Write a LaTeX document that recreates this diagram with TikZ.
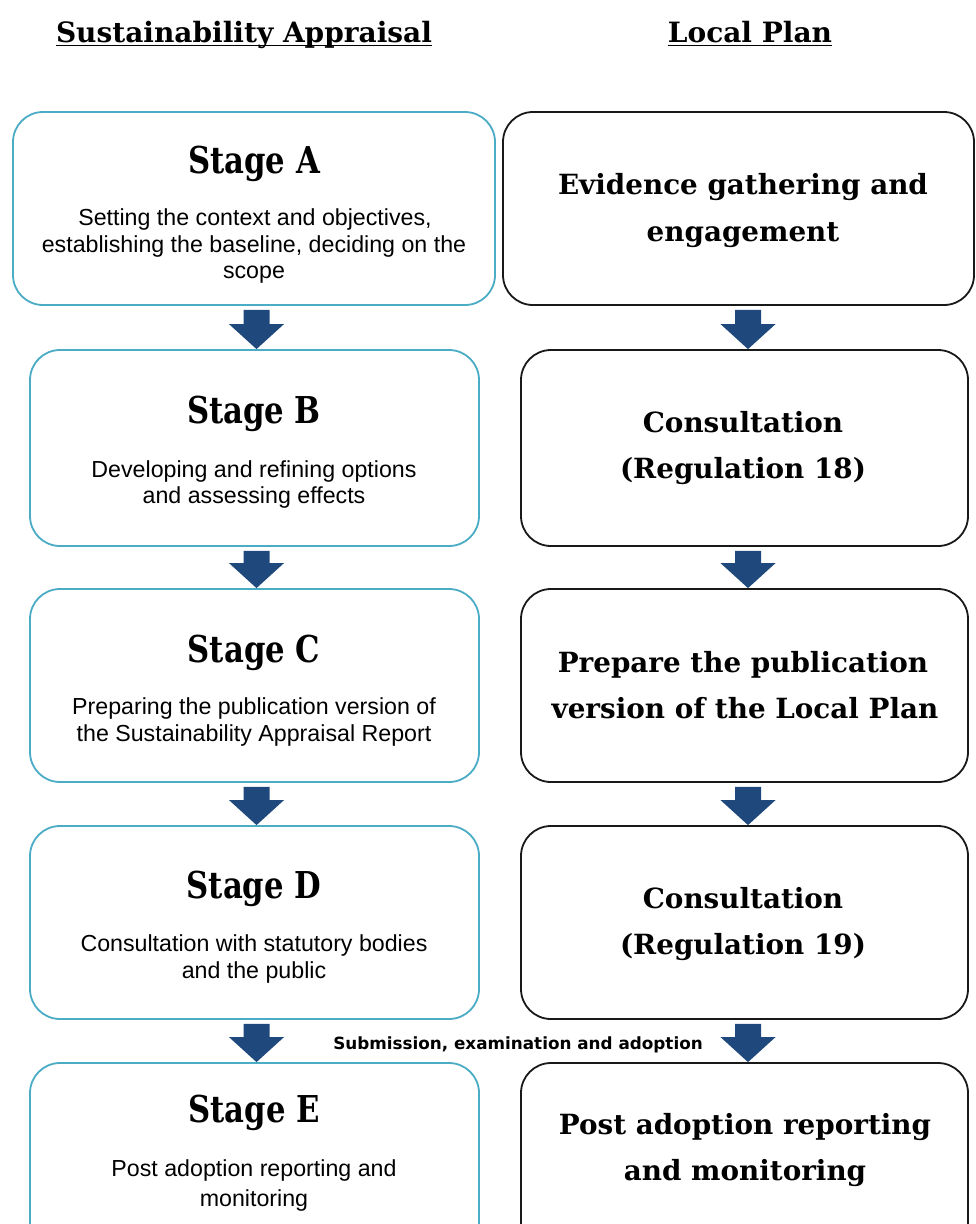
\documentclass[tikz,border=0pt]{standalone}
\usepackage{fontspec}
\setmainfont{Liberation Serif}
\newfontfamily\hdfont{DejaVu Serif}
\newfontfamily\rtfont{DejaVu Serif}
\newfontfamily\stfont[FakeStretch=0.83]{DejaVu Serif}
\newfontfamily\bodyfont{Liberation Sans}
\newfontfamily\subfont{DejaVu Sans}
\usetikzlibrary{calc}
\definecolor{sablue}{RGB}{75,172,198}
\definecolor{arrowblue}{RGB}{31,73,125}
\definecolor{lpline}{RGB}{25,25,25}
\newcommand\blockarrow[3]{%
  \fill[arrowblue] let \p1=(#1.south), \p2=(#2.north) in
    (\x2+#3-13pt,\y1-4pt) -- (\x2+#3+13pt,\y1-4pt) -- (\x2+#3+13pt,\y2+25pt)
    -- (\x2+#3+27.5pt,\y2+25pt) -- (\x2+#3,\y2) -- (\x2+#3-27.5pt,\y2+25pt)
    -- (\x2+#3-13pt,\y2+25pt) -- cycle;}
\tikzset{
  lbox/.style={draw=sablue, line width=1.8pt, rounded corners=30pt, inner sep=0pt,
    minimum width=449pt, minimum height=194pt},
  rbox/.style={draw=lpline, line width=1.8pt, rounded corners=30pt, inner sep=0pt,
    minimum width=447pt, minimum height=194pt},
  heading/.style={anchor=base, inner sep=0pt, font=\hdfont\bfseries\fontsize{28pt}{32pt}\selectfont},
  stagetitle/.style={anchor=base, inner sep=0pt, font=\stfont\bfseries\fontsize{37pt}{40pt}\selectfont},
  bodytext/.style={anchor=base, inner sep=0pt, font=\bodyfont\fontsize{23.2pt}{26pt}\selectfont},
  righttext/.style={anchor=base, inner sep=0pt, font=\rtfont\bfseries\fontsize{27.8pt}{31pt}\selectfont},
  subtext/.style={anchor=base, inner sep=0pt, font=\subfont\bfseries\fontsize{16.8pt}{20pt}\selectfont},
}
\begin{document}
\begin{tikzpicture}[x=1pt,y=-1pt]
\path[use as bounding box] (0,0) rectangle (975,1224);
\clip (0,0) rectangle (975,1224);
\fill[white] (0,0) rectangle (975,1224);

% headings
\node[heading] (h1) at (244,42) {Sustainability Appraisal};
\node[heading] (h2) at (750,42) {Local Plan};
\draw[line width=1.6pt] ($(h1.base west)+(0,3.5)$) -- ($(h1.base east)+(0,3.5)$);
\draw[line width=1.6pt] ($(h2.base west)+(0,3.5)$) -- ($(h2.base east)+(0,3.5)$);

% left boxes
\node[lbox, minimum width=482pt, minimum height=193pt] (A) at (254,208.5) {};
\node[lbox, minimum height=196pt] (B) at (254.5,448) {};
\node[lbox, minimum height=193pt] (C) at (254.5,685.5) {};
\node[lbox, minimum height=193pt] (D) at (254.5,922.5) {};
\node[lbox] (E) at (254.5,1160) {};

% right boxes
\node[rbox, minimum width=471pt, minimum height=193pt] (R1) at (738.5,208.5) {};
\node[rbox, minimum height=196pt] (R2) at (744.5,448) {};
\node[rbox, minimum height=193pt] (R3) at (744.5,685.5) {};
\node[rbox, minimum height=193pt] (R4) at (744.5,922.5) {};
\node[rbox] (R5) at (744.5,1160) {};

% arrows
\blockarrow{A}{B}{2pt}
\blockarrow{B}{C}{2pt}
\blockarrow{C}{D}{2pt}
\blockarrow{D}{E}{2pt}
\blockarrow{R1}{R2}{3.5pt}
\blockarrow{R2}{R3}{3.5pt}
\blockarrow{R3}{R4}{3.5pt}
\blockarrow{R4}{R5}{3.5pt}

% left texts
\node[stagetitle] (At) at (254,173) {Stage A};
\node[bodytext] (A1) at (255,225) {Setting the context and objectives,};
\node[bodytext] (A2) at (254,252) {establishing the baseline, deciding on the};
\node[bodytext] (A3) at (254,278) {scope};

\node[stagetitle] (Bt) at (254,423) {Stage B};
\node[bodytext] (B1) at (254,477) {Developing and refining options};
\node[bodytext] (B2) at (254,503) {and assessing effects};

\node[stagetitle] (Ct) at (254,662) {Stage C};
\node[bodytext] (C1) at (254,714) {Preparing the publication version of};
\node[bodytext] (C2) at (254,741) {the Sustainability Appraisal Report};

\node[stagetitle] (Dt) at (254,898) {Stage D};
\node[bodytext] (D1) at (254,951) {Consultation with statutory bodies};
\node[bodytext] (D2) at (254,978) {and the public};

\node[stagetitle] (Et) at (254,1122) {Stage E};
\node[bodytext] (E1) at (254,1176) {Post adoption reporting and};
\node[bodytext] (E2) at (254,1206) {monitoring};

% right texts
\node[righttext] (R1a) at (743,194) {Evidence gathering and};
\node[righttext] (R1b) at (743,241) {engagement};
\node[righttext] (R2a) at (743,432) {Consultation};
\node[righttext] (R2b) at (743,478) {(Regulation 18)};
\node[righttext] (R3a) at (743,672) {Prepare the publication};
\node[righttext] (R3b) at (745,718) {version of the Local Plan};
\node[righttext] (R4a) at (743,908) {Consultation};
\node[righttext] (R4b) at (743,954) {(Regulation 19)};
\node[righttext] (R5a) at (745,1134) {Post adoption reporting};
\node[righttext] (R5b) at (745,1180) {and monitoring};

% between-row label
\node[subtext] (sub) at (518,1049) {Submission, examination and adoption};
\end{tikzpicture}
\end{document}
